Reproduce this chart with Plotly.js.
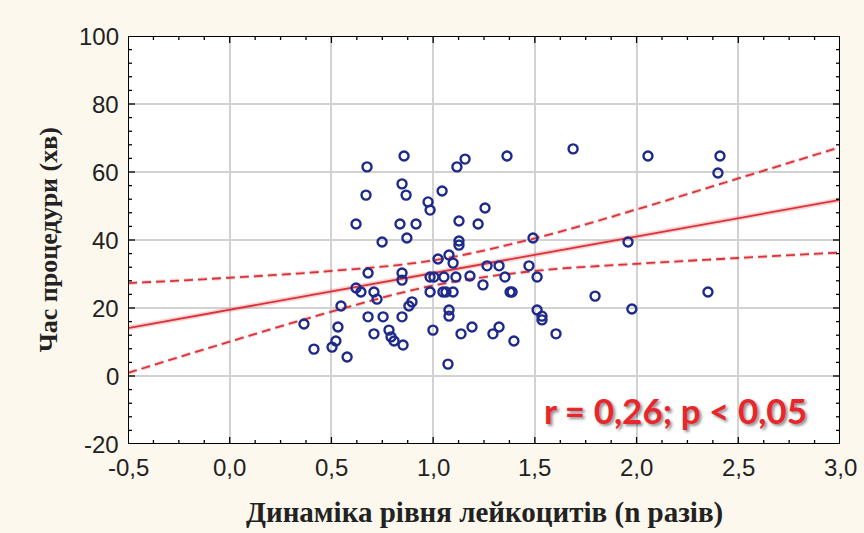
<!DOCTYPE html>
<html>
<head>
<meta charset="utf-8">
<script src="https://cdn.plot.ly/plotly-3.0.1.min.js"></script>
<style>
  html, body { margin: 0; padding: 0; background: #fcf8ed; }
  #chart { width: 864px; height: 533px; }
</style>
</head>
<body>
<div id="chart"></div>
<script>
// Scatter points (leukocyte dynamics, procedure time in minutes)
const xVals = [0.365,0.414,0.503,0.522,0.532,0.547,0.577,0.621,0.621,0.645,
  0.675,0.670,0.680,0.680,0.709,0.724,0.709,0.749,0.754,0.783,
  0.793,0.808,0.852,0.847,0.847,0.847,0.847,0.867,0.857,0.837,
  0.871,0.881,0.896,0.916,0.975,0.985,0.985,1.004,0.985,0.999,
  1.024,1.044,1.053,1.048,1.063,1.073,1.078,1.098,1.078,1.078,
  1.098,1.112,1.117,1.157,1.127,1.127,1.127,1.137,1.181,1.191,
  1.221,1.255,1.245,1.265,1.294,1.324,1.324,1.353,1.363,1.378,
  1.388,1.397,1.471,1.491,1.511,1.511,1.535,1.535,1.604,1.688,
  1.796,1.958,1.977,2.056,2.351,2.410,2.400];
const yVals = [15.3,7.9,8.5,10.3,14.4,20.6,5.6,44.7,25.9,24.7,
  61.5,53.2,30.3,17.4,24.7,22.6,12.4,39.4,17.4,13.5,
  11.5,10.3,9.1,30.3,28.2,17.4,56.5,53.2,64.7,44.7,
  40.6,20.6,21.8,44.7,51.2,48.8,29.1,29.1,24.7,13.5,
  34.4,54.4,29.1,24.7,24.7,3.5,35.6,33.2,19.4,17.6,
  24.7,29.1,61.5,63.8,45.6,39.7,38.5,12.4,29.4,14.4,
  44.7,49.4,26.8,32.4,12.4,32.4,14.4,29.1,64.7,24.7,
  24.7,10.3,32.4,40.6,29.1,19.4,17.6,16.5,12.4,66.8,
  23.5,39.4,19.7,64.7,24.7,64.7,59.7];

// Regression line and 95% confidence band
const fitX = [-0.5, 3.0];
const fitY = [14.1, 51.8];
const bandX = [-0.5, 0.0, 0.5, 1.0, 1.5, 2.0, 2.5, 3.0];
const bandUpper = [27.3, 28.9, 30.9, 34.0, 40.5, 49.0, 58.1, 67.3];
const bandLower = [0.9, 10.1, 18.9, 26.6, 30.9, 33.0, 34.7, 36.3];

// Tick values and labels
const xTicks = [-0.5, 0.0, 0.5, 1.0, 1.5, 2.0, 2.5, 3.0];
const xTickText = ["-0,5", "0,0", "0,5", "1,0", "1,5", "2,0", "2,5", "3,0"];
const yTicks = [-20, 0, 20, 40, 60, 80, 100];
const yTickText = ["-20", "0", "20", "40", "60", "80", "100"];
const statText = "r = 0,26; p < 0,05";
const xTitle = "Динаміка рівня лейкоцитів (n разів)";
const yTitle = "Час процедури (хв)";

// Page geometry
const W = 864, H = 533;
const M = {l: 128, r: 24, t: 36, b: 89};
const xMin = xTicks[0], xMax = xTicks[xTicks.length - 1];
const yMin = yTicks[0], yMax = yTicks[yTicks.length - 1];
const unitX = (xMax - xMin) / (W - M.l - M.r);   // data units per pixel
const unitY = (yMax - yMin) / (H - M.t - M.b);

const red = "#d8323a";
const halo = "rgba(235,120,120,0.35)";
const dashPat = "9px,5px";

// Frame and inside tick marks (mirrored on all four sides), built from the tick arrays
const tkX = [], tkY = [];
function seg(x0, y0, x1, y1) { tkX.push(x0, x1, null); tkY.push(y0, y1, null); }
function xTick(v, len, out) {
  seg(v, yMin - out * unitY, v, yMin + len * unitY);
  seg(v, yMax + out * unitY, v, yMax - len * unitY);
}
function yTick(v, len, out) {
  seg(xMin - out * unitX, v, xMin + len * unitX, v);
  seg(xMax + out * unitX, v, xMax - len * unitX, v);
}
xTicks.forEach(function(v, i) {
  xTick(v, 7, 3);
  if (i < xTicks.length - 1) for (let k = 1; k < 4; k++) xTick(v + (xTicks[i + 1] - v) * k / 4, 4, 0);
});
yTicks.forEach(function(v, i) {
  yTick(v, 7, 3);
  if (i < yTicks.length - 1) for (let k = 1; k < 5; k++) yTick(v + (yTicks[i + 1] - v) * k / 5, 4, 0);
});

const traces = [
  {x: fitX, y: fitY, mode: "lines", line: {color: halo, width: 5}, hoverinfo: "skip", showlegend: false},
  {x: bandX, y: bandUpper, mode: "lines", line: {color: halo, width: 4, shape: "spline", dash: dashPat}, hoverinfo: "skip", showlegend: false},
  {x: bandX, y: bandLower, mode: "lines", line: {color: halo, width: 4, shape: "spline", dash: dashPat}, hoverinfo: "skip", showlegend: false},
  {x: fitX, y: fitY, mode: "lines", line: {color: red, width: 1.8}, showlegend: false},
  {x: bandX, y: bandUpper, mode: "lines", line: {color: red, width: 1.8, shape: "spline", dash: dashPat}, showlegend: false},
  {x: bandX, y: bandLower, mode: "lines", line: {color: red, width: 1.8, shape: "spline", dash: dashPat}, showlegend: false},
  {x: xVals, y: yVals, mode: "markers", showlegend: false,
   marker: {symbol: "circle-open", size: 9, color: "#1e2a8a", line: {width: 2.4, color: "#1e2a8a"}}},
  {x: tkX, y: tkY, mode: "lines", connectgaps: false, cliponaxis: false, hoverinfo: "skip", showlegend: false,
   line: {color: "#000000", width: 1.3}},
  {x: [xMin, xMax, xMax, xMin, xMin], y: [yMin, yMin, yMax, yMax, yMin], mode: "lines",
   cliponaxis: false, hoverinfo: "skip", showlegend: false, line: {color: "#000000", width: 2}}
];

// Tick labels and axis titles as text annotations
const tickFont = {family: "Liberation Sans, Arial, sans-serif", size: 24, color: "#222"};
const titleFontX = {family: "Liberation Serif, Times New Roman, serif", size: 29, color: "#222", weight: "bold"};
const titleFontY = {family: "Liberation Serif, Times New Roman, serif", size: 26, color: "#222", weight: "bold"};
const annotations = [];
xTicks.forEach(function(v, i) {
  annotations.push({x: v, y: 0, xref: "x", yref: "paper", yanchor: "middle", xanchor: "center",
    yshift: -23, text: xTickText[i], showarrow: false, font: tickFont});
});
yTicks.forEach(function(v, i) {
  annotations.push({x: 0, y: v, xref: "paper", yref: "y", xanchor: "right", yanchor: "middle",
    xshift: -7, text: yTickText[i], showarrow: false, font: tickFont});
});
annotations.push({x: 0.5, y: -0.167, xref: "paper", yref: "paper", xanchor: "center", yanchor: "middle",
  text: xTitle, showarrow: false, font: titleFontX});
annotations.push({x: -0.112, y: 0.5, xref: "paper", yref: "paper", xanchor: "center", yanchor: "middle",
  textangle: -90, text: yTitle, showarrow: false, font: titleFontY});
annotations.push({x: 2.19, y: -10, xref: "x", yref: "y", text: statText, showarrow: false,
  font: {family: "Lato, Open Sans, sans-serif", size: 35, color: "#e8262b", weight: "bold",
         shadow: "2px 2px 3px rgba(0,0,0,0.45)"}});

const layout = {
  width: W, height: H,
  paper_bgcolor: "#fcf8ed", plot_bgcolor: "#ffffff",
  margin: M,
  xaxis: {
    range: [xMin, xMax],
    tickmode: "array", tickvals: xTicks, showticklabels: false, ticks: "",
    showline: false, showgrid: true, gridcolor: "#d2d2d2", gridwidth: 1.8, zeroline: false
  },
  yaxis: {
    range: [yMin, yMax],
    tickmode: "array", tickvals: yTicks, showticklabels: false, ticks: "",
    showline: false, showgrid: true, gridcolor: "#d2d2d2", gridwidth: 1.8, zeroline: false
  },
  annotations: annotations
};

Plotly.newPlot("chart", traces, layout, {displayModeBar: false});
</script>
</body>
</html>
